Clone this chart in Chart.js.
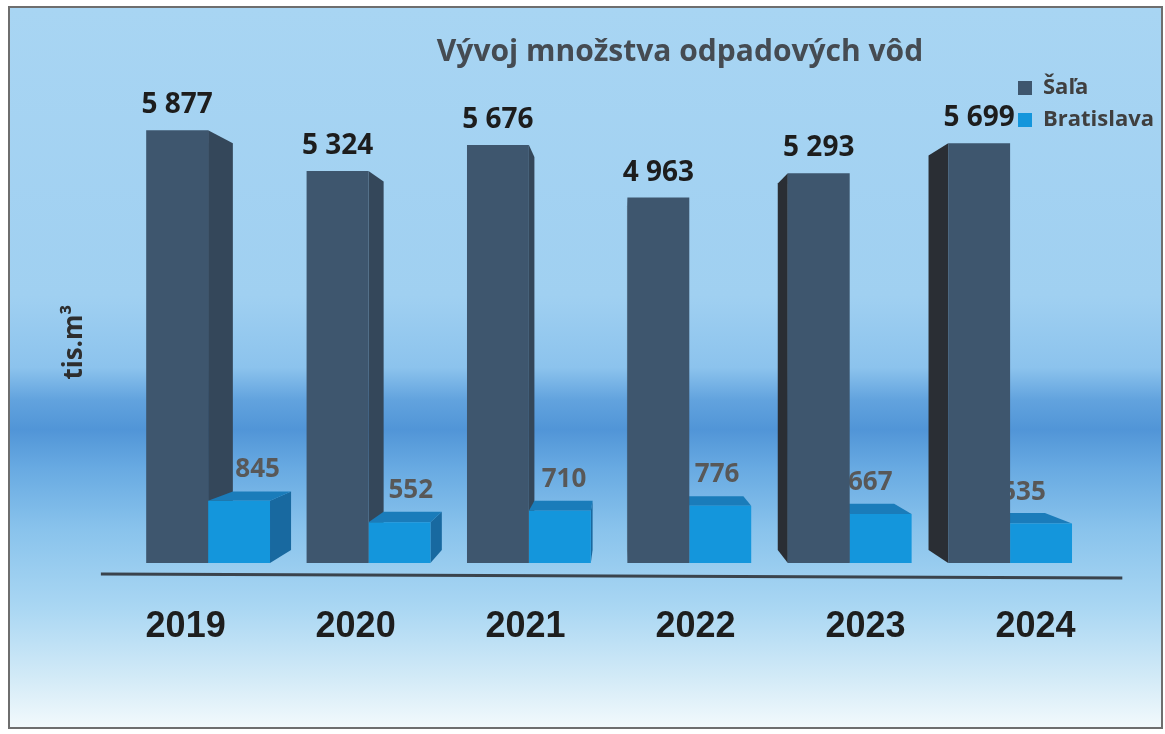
<!DOCTYPE html>
<html><head><meta charset="utf-8">
<script src="https://cdn.jsdelivr.net/npm/chart.js@4.4.1/dist/chart.umd.min.js"></script>
<style>
html,body{margin:0;padding:0;background:#fff;width:1165px;height:734px;overflow:hidden}
#frame{position:absolute;left:8px;top:6px;width:1151px;height:719px;border:2px solid #6e6e6e;
background:linear-gradient(to bottom,#a8d5f3 0%,#a0d0f1 40%,#8cc3ed 50%,#62a3de 54.5%,#5195d7 58.6%,#68aae2 64%,#89c3ec 72.5%,#aad7f3 83.5%,#d2eaf7 93%,#f2f9fc 100%)}
#wrap{position:absolute;left:0;top:0;width:1165px;height:734px}
</style></head><body>
<div id="frame"></div>
<div id="wrap"><canvas id="c" width="1165" height="734"></canvas></div>
<script>
const categories = ['2019', '2020', '2021', '2022', '2023', '2024'];
const salaValues = [5877, 5324, 5676, 4963, 5293, 5699];
const bratislavaValues = [845, 552, 710, 776, 667, 535];
const seriesNames = ['Šaľa', 'Bratislava'];
const chartTitle = 'Vývoj množstva odpadových vôd';
const yAxisTitle = 'tis.m³';
const yMax = 6000;

Chart.defaults.font.family = "'Open Sans', 'Noto Sans', sans-serif";

function fmt(v) { return String(v).replace(/\B(?=(\d{3})+(?!\d))/g, ' '); }

const DEPTH = 0.06;
function vanish(ca) { return { x: ca.left + 0.512 * (ca.right - ca.left), y: ca.top + 0.507 * (ca.bottom - ca.top) }; }
function back(p, V) { return { x: p.x + DEPTH * (V.x - p.x), y: p.y + DEPTH * (V.y - p.y) }; }
function poly(ctx, pts, color) {
  ctx.beginPath(); ctx.moveTo(pts[0].x, pts[0].y);
  for (let i = 1; i < pts.length; i++) ctx.lineTo(pts[i].x, pts[i].y);
  ctx.closePath(); ctx.fillStyle = color; ctx.fill();
}

const sideColors = [{ right: '#34475a', left: '#2a2e34', top: '#4a6680' }, { right: '#1869a0', left: '#1869a0', top: '#1a7cba' }];

const threeD = {
  id: 'threeD',
  afterLayout(chart) {
    const lg = chart.legend;
    if (lg) {
      lg.left = 1008; lg.right = 1165; lg.width = 157;
      lg.top = 67; lg.bottom = 67 + 80; lg.height = 80;
    }
    const tb = chart.titleBlock;
    if (tb) { tb.left = 680 - 500; tb.right = 680 + 500; tb.width = 1000; }
  },
  beforeDatasetsDraw(chart) {
    const ctx = chart.ctx, ca = chart.chartArea, V = vanish(ca);
    ctx.save();
    // floor line
    ctx.strokeStyle = '#3a434c'; ctx.lineWidth = 3;
    ctx.beginPath(); ctx.moveTo(ca.left - 27, ca.bottom + 11); ctx.lineTo(ca.right + 32, ca.bottom + 15); ctx.stroke();
    const n = categories.length;
    for (let i = 0; i < n; i++) {
      for (let d = 0; d < 2; d++) {
        const el = chart.getDatasetMeta(d).data[i];
        const p = el.getProps(['x', 'y', 'base', 'width'], true);
        const L = p.x - p.width / 2, R = p.x + p.width / 2;
        const TL = { x: L, y: p.y }, TR = { x: R, y: p.y }, BL = { x: L, y: p.base }, BR = { x: R, y: p.base };
        const bTL = back(TL, V), bTR = back(TR, V), bBL = back(BL, V), bBR = back(BR, V);
        if (R < V.x) poly(ctx, [TR, bTR, bBR, BR], sideColors[d].right);
        else if (L > V.x) poly(ctx, [TL, bTL, bBL, BL], sideColors[d].left);
        if (p.y > V.y) poly(ctx, [TL, TR, bTR, bTL], sideColors[d].top);
      }
    }
    // value labels
    ctx.textAlign = 'center'; ctx.textBaseline = 'alphabetic';
    const m0 = chart.getDatasetMeta(0), m1 = chart.getDatasetMeta(1);
    ctx.font = "bold 28px 'Open Sans'"; ctx.fillStyle = '#1d1d1d';
    m0.data.forEach((el, i) => { ctx.fillText(fmt(salaValues[i]), el.x, el.y - 17); });
    ctx.font = "bold 26px 'Open Sans'"; ctx.fillStyle = '#585858';
    m1.data.forEach((el, i) => { ctx.fillText(fmt(bratislavaValues[i]), el.x + 0.045 * (V.x + 30 - el.x), el.y - 24); });
    ctx.restore();
  }
};

new Chart(document.getElementById('c'), {
  type: 'bar',
  data: {
    labels: categories,
    datasets: [
      { label: seriesNames[0], data: salaValues, backgroundColor: '#3e566e', borderWidth: 0, barPercentage: 1, categoryPercentage: 0.772 },
      { label: seriesNames[1], data: bratislavaValues, backgroundColor: '#1496dc', borderWidth: 0, barPercentage: 1, categoryPercentage: 0.772 }
    ]
  },
  options: {
    responsive: false, animation: false, devicePixelRatio: 1,
    layout: { padding: { left: 10, right: 74.7, top: 0, bottom: 43.8 } },
    plugins: {
      title: { display: true, text: chartTitle, color: '#454b52', font: { size: 30, weight: 'bold', family: "'Open Sans'" }, padding: { top: 34, bottom: 51.2 } },
      legend: {
        display: true, position: 'chartArea', align: 'start',
        labels: { color: '#3f3f3f', font: { size: 22, weight: 'bold', family: "'Open Sans'" }, boxWidth: 14, boxHeight: 14, padding: 10 }
      },
      tooltip: { enabled: false }
    },
    scales: {
      x: { type: 'category', display: false },
      x2: {
        type: 'linear', position: 'bottom', min: -0.3396, max: 5.322, offset: false,
        afterBuildTicks: (axis) => { axis.ticks = categories.map((c, i) => ({ value: i })); },
        ticks: { callback: (v) => categories[v], color: '#1e1e1e', font: { size: 36, weight: 'bold', family: "'Liberation Sans'" }, padding: 42, maxRotation: 0, autoSkip: false },
        grid: { display: false, drawTicks: false, tickLength: 0, offset: false }, border: { display: false }
      },
      y: {
        min: 0, max: yMax, display: true,
        ticks: { display: false }, grid: { display: false, drawTicks: false, tickLength: 0 }, border: { display: false },
        title: { display: true, text: yAxisTitle, color: '#2e2e2e', font: { size: 26, weight: 'bold', family: "'Open Sans'" }, padding: { top: 49, bottom: 37.7 } }
      }
    }
  },
  plugins: [threeD]
});
</script>
</body></html>
